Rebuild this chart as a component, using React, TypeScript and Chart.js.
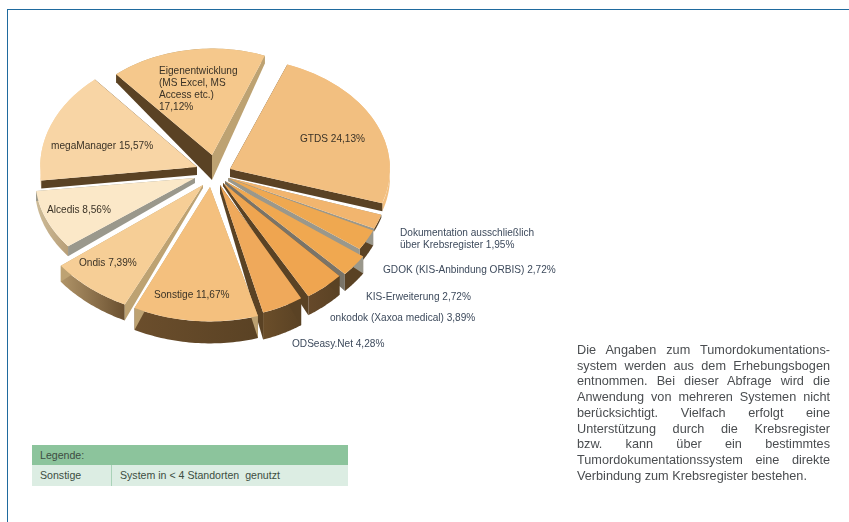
import React, { useEffect, useRef } from "react";
import { Chart, registerables } from "chart.js";

Chart.register(...registerables);

// Survey shares per documentation system, clockwise from GTDS.
const labelLines: string[][] = [
  ["GTDS"],
  ["Dokumentation ausschließlich", "über Krebsregister"],
  ["GDOK (KIS-Anbindung ORBIS)"],
  ["KIS-Erweiterung"],
  ["onkodok (Xaxoa medical)"],
  ["ODSeasy.Net"],
  ["Sonstige"],
  ["Ondis"],
  ["Alcedis"],
  ["megaManager"],
  ["Eigenentwicklung", "(MS Excel, MS", "Access etc.)"],
];
const shares = [24.13, 1.95, 2.72, 2.72, 3.89, 4.28, 11.67, 7.39, 8.56, 15.57, 17.12];
const topColors = [
  "#f2bf80", "#f2b56e", "#efa850", "#f0a850", "#efa550", "#efa95b",
  "#f4c07e", "#f6ce96", "#fbe8c8", "#f8d5a5", "#f5c88c",
];

const legendRows = [["Sonstige", "System in < 4 Standorten  genutzt"]];
const noteLines = [
  "Die Angaben zum Tumordokumentations-",
  "system werden aus dem Erhebungsbogen",
  "entnommen. Bei dieser Abfrage wird die",
  "Anwendung von mehreren Systemen nicht",
  "berücksichtigt. Vielfach erfolgt eine",
  "Unterstützung durch die Krebsregister",
  "bzw. kann über ein bestimmtes",
  "Tumordokumentationssystem eine direkte",
  "Verbindung zum Krebsregister bestehen.",
];

const DARK = "#5a4224";
const TAN = "#bda272";
const GREY = "#9a988c";

// Where each exploded slice sits and how it is foreshortened.
const sliceViews = [
  { x: 230, y: 169, sx: 1.0, sy: 0.7, apexDepth: 8, rimDepth: 8, start: DARK, end: DARK, rim: ["#f2bf80", "#f2bf80"] },
  { x: 229, y: 178, sx: 1.0, sy: 0.75, apexDepth: 3, rimDepth: 3, start: GREY, end: GREY, rim: [DARK, DARK] },
  { x: 228, y: 178, sx: 1.0, sy: 0.78, apexDepth: 3, rimDepth: 15, start: GREY, end: GREY, rim: [DARK, DARK] },
  { x: 225, y: 181, sx: 1.05, sy: 0.83, apexDepth: 3, rimDepth: 17, start: GREY, end: "#7a7468", rim: [DARK, DARK] },
  { x: 223, y: 183, sx: 1.02, sy: 0.83, apexDepth: 3, rimDepth: 19, start: DARK, end: DARK, rim: [DARK, "#66492a"] },
  { x: 220, y: 185, sx: 0.97, sy: 0.83, apexDepth: 8, rimDepth: 27, start: DARK, end: DARK, rim: [DARK, "#6b4e2a"] },
  { x: 210, y: 187, sx: 1.08, sy: 0.84, apexDepth: 3, rimDepth: 22, start: TAN, end: TAN, rim: [DARK, "#6b4e2c"] },
  { x: 203, y: 185, sx: 1.12, sy: 0.83, apexDepth: 3, rimDepth: 16, start: TAN, end: TAN, rim: ["#6a5030", "#b09468"] },
  { x: 195, y: 178, sx: 1.0, sy: 0.7, apexDepth: 5, rimDepth: 10, start: GREY, end: GREY, rim: ["#b89f78", "#cdbb98"] },
  { x: 197, y: 167, sx: 0.98, sy: 0.72, apexDepth: 8, rimDepth: 8, start: DARK, end: DARK, rim: ["#f8d5a5", "#f8d5a5"] },
  { x: 212, y: 155, sx: 0.92, sy: 0.665, apexDepth: 25, rimDepth: 8, start: DARK, end: TAN, rim: [TAN, TAN] },
];

// Text anchors: left edge and vertical centre of the first line of each slice label.
const labelAnchors = [
  { x: 300, y: 139, color: "#3a3226" },
  { x: 400, y: 233, color: "#3d4a5c" },
  { x: 383, y: 270, color: "#3d4a5c" },
  { x: 366, y: 297, color: "#3d4a5c" },
  { x: 330, y: 318, color: "#3d4a5c" },
  { x: 292, y: 344, color: "#3d4a5c" },
  { x: 154, y: 295, color: "#3a3226" },
  { x: 79, y: 263, color: "#3a3226" },
  { x: 47, y: 210, color: "#3a3226" },
  { x: 51, y: 146, color: "#3a3226" },
  { x: 159, y: 71, color: "#3a3226" },
];

const formatShare = (v: number) => v.toFixed(2).replace(".", ",") + "%";

const extrudedPie = {
  id: "extrudedPie",
  beforeDatasetDraw(chart: any) {
    const { ctx } = chart;
    const arcs = chart.getDatasetMeta(0).data as any[];
    const order = arcs
      .map((_, i) => i)
      .sort((a, b) => {
        const mid = (k: number) => (arcs[k].startAngle + arcs[k].endAngle) / 2;
        return (
          sliceViews[a].y + 60 * Math.sin(mid(a)) - (sliceViews[b].y + 60 * Math.sin(mid(b)))
        );
      });

    for (const i of order) {
      const arc = arcs[i];
      const v = sliceViews[i];
      const R = arc.outerRadius;
      const pt = (angle: number) => [
        v.x + v.sx * R * Math.cos(angle),
        v.y + v.sy * R * Math.sin(angle),
      ];
      const face = (pts: number[][], fill: any) => {
        ctx.beginPath();
        pts.forEach(([x, y], k) => (k ? ctx.lineTo(x, y) : ctx.moveTo(x, y)));
        ctx.closePath();
        ctx.fillStyle = fill;
        ctx.fill();
      };

      const s = pt(arc.startAngle);
      const e = pt(arc.endAngle);
      const topRim: number[][] = [];
      const lowRim: number[][] = [];
      for (let k = 0; k <= 40; k++) {
        const p = pt(arc.startAngle + ((arc.endAngle - arc.startAngle) * k) / 40);
        topRim.push(p);
        lowRim.unshift([p[0], p[1] + v.rimDepth]);
      }
      const grad = ctx.createLinearGradient(Math.max(s[0], e[0]), 0, Math.min(s[0], e[0]), 0);
      grad.addColorStop(0, v.rim[0]);
      grad.addColorStop(1, v.rim[1]);
      face([...topRim, ...lowRim], grad);
      face([[v.x, v.y], s, [s[0], s[1] + v.rimDepth], [v.x, v.y + v.apexDepth]], v.start);
      face([[v.x, v.y], e, [e[0], e[1] + v.rimDepth], [v.x, v.y + v.apexDepth]], v.end);

      ctx.save();
      ctx.translate(v.x, v.y);
      ctx.scale(v.sx, v.sy);
      ctx.translate(-arc.x, -arc.y);
      arc.draw(ctx);
      ctx.restore();
    }
    return false;
  },
  afterDraw(chart: any) {
    const { ctx } = chart;
    ctx.save();
    ctx.font = '10.1px "Liberation Sans", Arial, sans-serif';
    ctx.textBaseline = "middle";
    labelLines.forEach((lines, i) => {
      const a = labelAnchors[i];
      const pct = formatShare(shares[i]);
      const rows = [...lines];
      // The share sits on a line of its own for the long slice label, else after the last line.
      if (i === 10) rows.push(pct);
      else rows[rows.length - 1] += " " + pct;
      ctx.fillStyle = a.color;
      rows.forEach((t, k) => ctx.fillText(t, a.x, a.y + k * 12.2));
    });
    ctx.restore();
  },
};

export default function App() {
  const ref = useRef<HTMLCanvasElement>(null);
  useEffect(() => {
    const chart = new Chart(ref.current!, {
      type: "pie",
      data: {
        labels: labelLines.map((l) => l.join(" ")),
        datasets: [{ data: shares, backgroundColor: topColors, borderWidth: 0 }],
      },
      options: {
        responsive: false,
        animation: false,
        rotation: 21,
        layout: { padding: { left: 52, right: 477, top: 15, bottom: 187 } },
        plugins: { legend: { display: false }, tooltip: { enabled: false } },
      },
      plugins: [extrudedPie],
    } as any);
    return () => chart.destroy();
  }, []);

  const sans = '"Liberation Sans", Arial, sans-serif';
  return (
    <div style={{ position: "absolute", left: 0, top: 0, width: 849, height: 522, overflow: "hidden", background: "#fff", fontFamily: sans }}>
      <div style={{ position: "absolute", left: 7, top: 9, width: 842, height: 513, borderLeft: "1.5px solid #1f6a9e", borderTop: "1.5px solid #1f6a9e" }} />
      <canvas ref={ref} width={849} height={522} style={{ position: "absolute", left: 0, top: 0 }} />
      <div style={{ position: "absolute", left: 32, top: 445, width: 316, fontSize: 10.6, color: "#3d4d42" }}>
        <div style={{ height: 20, lineHeight: "20px", background: "#8cc49c", paddingLeft: 8 }}>Legende:</div>
        {legendRows.map((r) => (
          <div key={r[0]} style={{ display: "flex", height: 21, lineHeight: "21px", background: "#dcede3" }}>
            <div style={{ width: 80, paddingLeft: 8, boxSizing: "border-box", borderRight: "1px solid #a9d2b8" }}>{r[0]}</div>
            <div style={{ paddingLeft: 8, whiteSpace: "pre" }}>{r[1]}</div>
          </div>
        ))}
      </div>
      <div style={{ position: "absolute", left: 577, top: 343, width: 253, fontSize: 12.7, lineHeight: "15.7px", color: "#4a4d50" }}>
        {noteLines.map((t, i) => (
          <div key={i} style={{ textAlign: "justify", textAlignLast: i === noteLines.length - 1 ? "left" : "justify", whiteSpace: "nowrap" }}>{t}</div>
        ))}
      </div>
    </div>
  );
}
